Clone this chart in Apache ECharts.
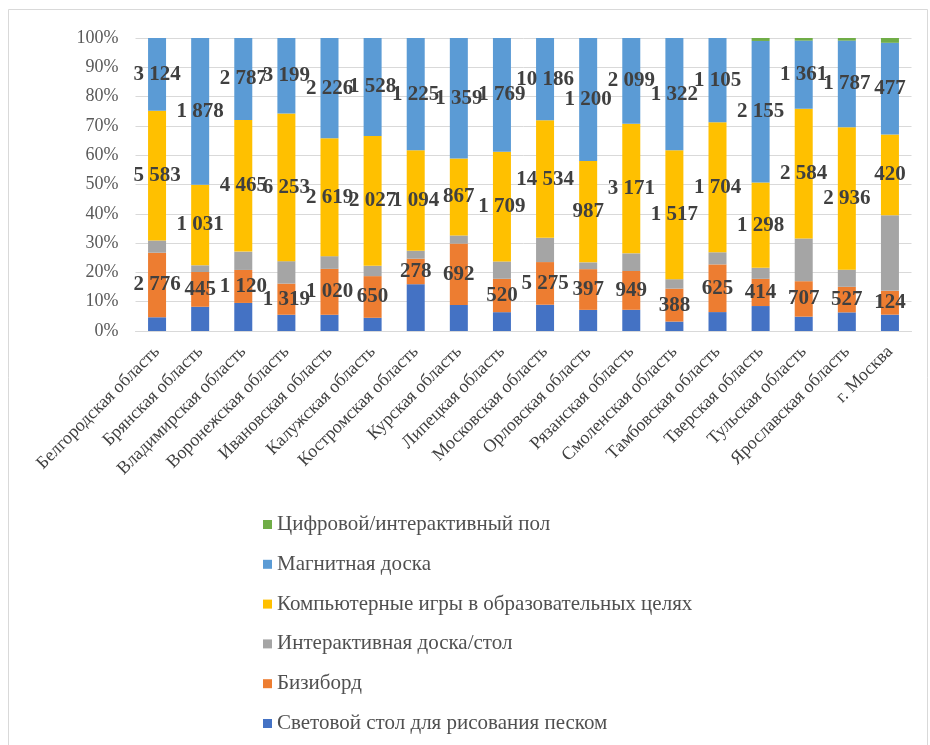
<!DOCTYPE html>
<html>
<head>
<meta charset="utf-8">
<script src="https://cdn.jsdelivr.net/npm/echarts@6/dist/echarts.min.js"></script>
<style>html,body{margin:0;padding:0;background:#fff;}#c{width:930px;height:745px;}</style>
</head>
<body>
<div id="c"></div>
<script>
var categories = ['Белгородская область','Брянская область','Владимирская область','Воронежская область','Ивановская область','Калужская область','Костромская область','Курская область','Липецкая область','Московская область','Орловская область','Рязанская область','Смоленская область','Тамбовская область','Тверская область','Тульская область','Ярославская область','г. Москва'];
var sandTable = [590, 310, 953, 688, 360, 206, 510, 293, 293, 3250, 206, 519, 111, 248, 380, 286, 384, 85];
var busyboard = [2776, 445, 1120, 1319, 1020, 650, 278, 692, 520, 5275, 397, 949, 388, 625, 414, 707, 527, 124];
var interactiveBoard = [528, 86, 622, 950, 282, 160, 87, 92, 270, 2994, 66, 432, 111, 159, 168, 852, 354, 394];
var computerGames = [5583, 1031, 4465, 6253, 2619, 2027, 1094, 867, 1709, 14534, 987, 3171, 1517, 1704, 1298, 2584, 2936, 420];
var magneticBoard = [3124, 1878, 2787, 3199, 2226, 1528, 1225, 1359, 1769, 10186, 1200, 2099, 1322, 1105, 2155, 1361, 1787, 477];
var digitalFloor = [0, 0, 0, 0, 0, 0, 0, 0, 0, 0, 0, 0, 0, 0, 45, 52, 54, 25];
var yTicks = [0, 10, 20, 30, 40, 50, 60, 70, 80, 90, 100];

var seriesDefs = [
  {name: 'Световой стол для рисования песком', data: sandTable, color: '#4472C4', label: false},
  {name: 'Бизиборд', data: busyboard, color: '#ED7D31', label: true},
  {name: 'Интерактивная доска/стол', data: interactiveBoard, color: '#A5A5A5', label: false},
  {name: 'Компьютерные игры в образовательных целях', data: computerGames, color: '#FFC000', label: true},
  {name: 'Магнитная доска', data: magneticBoard, color: '#5B9BD5', label: true},
  {name: 'Цифровой/интерактивный пол', data: digitalFloor, color: '#70AD47', label: false}
];

var totals = categories.map(function (c, i) {
  return seriesDefs.reduce(function (s, d) { return s + d.data[i]; }, 0);
});

function fmt(v) {
  return String(v).replace(/\B(?=(\d{3})+(?!\d))/g, ' ');
}

var series = seriesDefs.map(function (d) {
  return {
    name: d.name,
    type: 'bar',
    stack: 'all',
    barWidth: 18,
    itemStyle: {color: d.color},
    data: d.data.map(function (v, i) { return {value: v / totals[i] * 100, raw: v}; }),
    label: {
      show: d.label,
      position: 'inside',
      fontFamily: 'Liberation Serif',
      fontWeight: 'bold',
      fontSize: 21,
      color: '#404040',
      formatter: function (p) { return fmt(p.data.raw); }
    }
  };
});

var chart = echarts.init(document.getElementById('c'), null, {renderer: 'canvas'});
chart.setOption({
  animation: false,
  backgroundColor: '#fff',
  grid: {left: 135.5, right: 18.5, top: 38, bottom: 414},
  xAxis: {
    type: 'category',
    data: categories,
    axisLine: {lineStyle: {color: '#d9d9d9'}},
    axisTick: {show: false},
    axisLabel: {rotate: 45, interval: 0, margin: 18, fontFamily: 'Liberation Serif', fontSize: 18, color: '#404040'}
  },
  yAxis: {
    type: 'value',
    min: yTicks[0],
    max: yTicks[yTicks.length - 1],
    interval: 10,
    axisLine: {show: false},
    axisTick: {show: false},
    splitLine: {lineStyle: {color: '#d9d9d9'}},
    axisLabel: {margin: 17, fontFamily: 'Liberation Serif', fontSize: 18, color: '#595959', formatter: '{value}%'}
  },
  legend: {
    orient: 'vertical',
    left: 258,
    top: 509,
    itemWidth: 9,
    itemHeight: 9,
    itemGap: 18.8,
    icon: 'rect',
    data: ['Цифровой/интерактивный пол', 'Магнитная доска', 'Компьютерные игры в образовательных целях', 'Интерактивная доска/стол', 'Бизиборд', 'Световой стол для рисования песком'],
    textStyle: {fontFamily: 'Liberation Serif', fontSize: 21, lineHeight: 20, color: '#505050'}
  },
  graphic: [{
    type: 'rect',
    shape: {x: 8.5, y: 9.5, width: 919, height: 745},
    style: {fill: 'none', stroke: '#d9d9d9', lineWidth: 1},
    silent: true
  }],
  series: series
});
</script>
</body>
</html>
